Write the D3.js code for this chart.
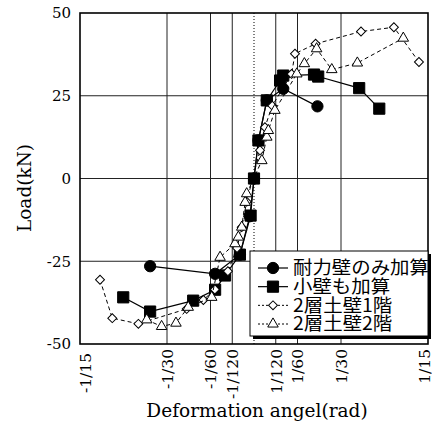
<!DOCTYPE html>
<html>
<head>
<meta charset="utf-8">
<script src="https://cdn.jsdelivr.net/npm/d3@7"></script>
<style>
  html, body { margin: 0; padding: 0; background: #fff; }
  svg { display: block; }
</style>
</head>
<body>
<div id="chart"></div>
<script>
// Load (kN) vs deformation angle (rad).
var seriesNames = ['耐力壁のみ加算', '小壁も加算', '2層土壁1階', '2層土壁2階'];

var wallOnly = [
    [-0.0398, -26.5], [-0.0149, -28.8], [-0.0054, -23.0], [-0.0016, -11.4], [0, 0],
    [0.0017, 11.5], [0.0049, 23.6], [0.0112, 27.1], [0.0243, 21.8]
];
var withSmallWall = [
    [-0.0501, -35.9], [-0.0398, -40.2], [-0.0233, -36.9], [-0.0149, -33.6], [-0.0111, -29.3],
    [-0.0054, -23.0], [-0.0013, -11.2], [0, 0], [0.0017, 11.5], [0.0049, 23.6],
    [0.0100, 29.6], [0.0112, 31.1], [0.0230, 31.4], [0.0246, 30.8], [0.0403, 27.3], [0.0480, 21.1]
];
var earthWall1F = [
    [-0.0590, -30.6], [-0.0543, -42.2], [-0.0443, -43.9], [-0.0258, -39.4], [-0.0194, -36.7],
    [-0.0150, -33.5], [-0.0100, -28.0], [-0.0065, -21.0], [-0.0047, -14.7], [-0.0028, -7.0],
    [0.0023, 8.5], [0.0042, 15.5], [0.0070, 22.0], [0.0144, 31.6], [0.0157, 37.7],
    [0.0236, 40.7], [0.0410, 44.4], [0.0536, 45.7], [0.0632, 35.2]
];
var earthWall2F = [
    [-0.0411, -42.7], [-0.0354, -44.7], [-0.0299, -43.7], [-0.0252, -38.9], [-0.0162, -35.9],
    [-0.0130, -23.8], [-0.0073, -19.7], [-0.0060, -17.7], [-0.0047, -14.7], [-0.0034, -7.2],
    [-0.0028, -4.6], [0.0030, 5.4], [0.0049, 12.5], [0.0055, 14.5], [0.0080, 20.6],
    [0.0164, 31.6], [0.0193, 34.7], [0.0240, 39.2], [0.0298, 32.9], [0.0396, 34.9], [0.0572, 42.4]
];

var xTickValues = [-1 / 15, -1 / 30, -1 / 60, -1 / 120, 1 / 120, 1 / 60, 1 / 30, 1 / 15];
var xTickLabels = ['-1/15', '-1/30', '-1/60', '-1/120', '1/120', '1/60', '1/30', '1/15'];
var xGridValues = [-1 / 30, -1 / 60, -1 / 120, 1 / 120, 1 / 60, 1 / 30];
var yTickValues = [50, 25, 0, -25, -50];
var yGridValues = [25, 0, -25];

var width = 432, height = 421;
var margin = { top: 13, right: 4, bottom: 77, left: 80 };
var serif = '"DejaVu Serif", serif';

var svg = d3.select('#chart').append('svg')
    .attr('width', width)
    .attr('height', height);

var x = d3.scaleLinear().domain([-1 / 15, 1 / 15]).range([margin.left, width - margin.right]);
var y = d3.scaleLinear().domain([-50, 50]).range([height - margin.bottom, margin.top]);

// Grid.
svg.append('g').selectAll('line')
    .data(xGridValues)
    .enter().append('line')
    .attr('x1', function(d) { return x(d); })
    .attr('x2', function(d) { return x(d); })
    .attr('y1', y(50)).attr('y2', y(-50))
    .attr('stroke', '#222').attr('stroke-width', 1);

svg.append('g').selectAll('line')
    .data(yGridValues)
    .enter().append('line')
    .attr('x1', x(-1 / 15)).attr('x2', x(1 / 15))
    .attr('y1', function(d) { return y(d); })
    .attr('y2', function(d) { return y(d); })
    .attr('stroke', '#222').attr('stroke-width', 1);

// Dotted zero line.
svg.append('line')
    .attr('x1', x(0)).attr('x2', x(0))
    .attr('y1', y(50)).attr('y2', y(-50))
    .attr('stroke', '#000').attr('stroke-width', 1)
    .attr('stroke-dasharray', '1,2');

// Frame.
svg.append('rect')
    .attr('x', x(-1 / 15)).attr('y', y(50))
    .attr('width', x(1 / 15) - x(-1 / 15))
    .attr('height', y(-50) - y(50))
    .attr('fill', 'none').attr('stroke', '#000').attr('stroke-width', 1.6);

// Y axis labels (plain hyphen minus, as in the original).
var yAxis = d3.axisLeft(y).tickValues(yTickValues).tickSize(0).tickPadding(9)
    .tickFormat(function(d) { return String(d); });
svg.append('g')
    .attr('transform', 'translate(' + x(-1 / 15) + ',0)')
    .call(yAxis)
    .call(function(g) { g.select('.domain').remove(); })
    .selectAll('text')
    .attr('font-family', serif)
    .attr('font-size', 15)
    .attr('fill', '#000');

// X axis labels (rotated); the two end labels sit a little inside the frame.
var xAxis = d3.axisBottom(x).tickValues(xTickValues).tickSize(0)
    .tickFormat(function(d, i) { return xTickLabels[i]; });
svg.append('g')
    .attr('transform', 'translate(0,' + y(-50) + ')')
    .call(xAxis)
    .call(function(g) { g.select('.domain').remove(); })
    .selectAll('text')
    .attr('font-family', serif)
    .attr('font-size', 15.5)
    .attr('fill', '#000')
    .attr('transform', 'rotate(-90)')
    .attr('text-anchor', 'end')
    .attr('x', function(d, i) { return i === 0 ? -9 : -5; })
    .attr('y', function(d, i) { return i === 0 ? 5 : (i === xTickValues.length - 1 ? -4 : 0); })
    .attr('dy', '0.35em');

// Axis titles.
svg.append('text')
    .attr('x', (x(-1 / 15) + x(1 / 15)) / 2 + 3)
    .attr('y', 417)
    .attr('text-anchor', 'middle')
    .attr('font-family', serif)
    .attr('font-size', 18.5)
    .text('Deformation angel(rad)');

svg.append('text')
    .attr('transform', 'translate(31,' + 188 + ') rotate(-90)')
    .attr('text-anchor', 'middle')
    .attr('font-family', serif)
    .attr('font-size', 18.5)
    .text('Load(kN)');

// Series.
var line = d3.line()
    .x(function(d) { return x(d[0]); })
    .y(function(d) { return y(d[1]); });

var symbols = [
    d3.symbol().type(d3.symbolCircle).size(100),
    d3.symbol().type(d3.symbolSquare).size(125),
    d3.symbol().type(d3.symbolSquare).size(40),
    d3.symbol().type(d3.symbolTriangle).size(48)
];
var rotations = [0, 0, 45, 0];
var styles = [
    { dash: null, fill: '#000', width: 1.2 },
    { dash: null, fill: '#000', width: 1.2 },
    { dash: '4,3', fill: '#fff', width: 1 },
    { dash: '4,3', fill: '#fff', width: 1 }
];
var allSeries = [wallOnly, withSmallWall, earthWall1F, earthWall2F];

allSeries.forEach(function(data, i) {
    var s = styles[i];
    svg.append('path')
        .datum(data)
        .attr('d', line)
        .attr('fill', 'none')
        .attr('stroke', '#000')
        .attr('stroke-width', s.width)
        .attr('stroke-dasharray', s.dash);

    svg.append('g').selectAll('path')
        .data(data)
        .enter().append('path')
        .attr('d', symbols[i])
        .attr('transform', function(d) {
            return 'translate(' + x(d[0]) + ',' + y(d[1]) + ') rotate(' + rotations[i] + ')';
        })
        .attr('fill', s.fill)
        .attr('stroke', '#000')
        .attr('stroke-width', 1);
});

// Legend with drop shadow.
var lx = 250, ly = 251, lw = 178, lh = 85;
var legend = svg.append('g');
legend.append('rect')
    .attr('x', lx + 3).attr('y', ly + 3)
    .attr('width', lw).attr('height', lh)
    .attr('fill', '#000');
legend.append('rect')
    .attr('x', lx).attr('y', ly)
    .attr('width', lw).attr('height', lh)
    .attr('fill', '#fff').attr('stroke', '#000').attr('stroke-width', 1);

var rowY = d3.scalePoint().domain(seriesNames).range([ly + 17, ly + 73]);
seriesNames.forEach(function(name, i) {
    var s = styles[i];
    var cy = rowY(name);
    legend.append('line')
        .attr('x1', lx + 8).attr('x2', lx + 38)
        .attr('y1', cy).attr('y2', cy)
        .attr('stroke', '#000')
        .attr('stroke-width', s.width)
        .attr('stroke-dasharray', s.dash ? '2,2' : null);
    legend.append('path')
        .attr('d', symbols[i])
        .attr('transform', 'translate(' + (lx + 23) + ',' + cy + ') rotate(' + rotations[i] + ')')
        .attr('fill', s.fill)
        .attr('stroke', '#000')
        .attr('stroke-width', 1);
    legend.append('text')
        .attr('transform', 'translate(' + (lx + 43) + ',' + cy + ') scale(1.08,1)')
        .attr('dy', '0.36em')
        .attr('font-family', '"Noto Sans CJK JP", sans-serif')
        .attr('font-size', 18)
        .text(name);
});
</script>
</body>
</html>
